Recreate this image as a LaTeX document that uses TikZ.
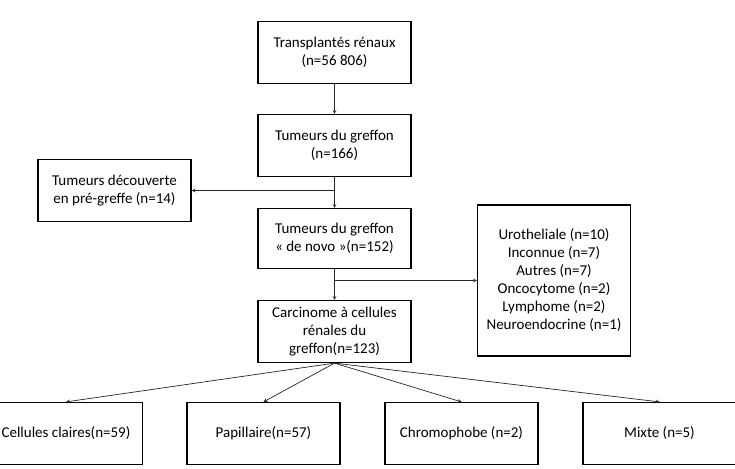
\documentclass[tikz,border=0pt]{standalone}
\usepackage{fontspec}
\setmainfont{Carlito}
\usetikzlibrary{positioning,arrows}

\begin{document}
\begin{tikzpicture}[>=stealth, x=1pt, y=-1pt, node distance=93pt, on grid, auto,
    box/.style={draw, line width=1.2pt, rectangle, align=center, minimum width=153pt,
                minimum height=62pt, inner sep=2pt, font=\fontsize{15}{18}\selectfont},
    pfeil/.style={->, line width=0.7pt, black!85}]

    \useasboundingbox (0,0) rectangle (735,468);

    % Boxen
    \node[box] (trans) at (334.5,52.5) {Transplantés rénaux\\(n=56 806)};
    \node[box, below=of trans] (greffon) {Tumeurs du greffon\\(n=166)};
    \node[box, below=of greffon, minimum height=60pt] (denovo) {Tumeurs du greffon\\« de novo »(n=152)};
    \node[box, below=of denovo] (carcinome) {Carcinome à cellules\\rénales du\\greffon(n=123)};
    \node[box, above left=48pt and 220pt of denovo] (decouverte) {Tumeurs découverte\\en pré-greffe (n=14)};
    \node[box, below right=42pt and 219.5pt of denovo, minimum height=151pt] (autres)
        {Urotheliale (n=10)\\Inconnue (n=7)\\Autres (n=7)\\Oncocytome (n=2)\\Lymphome (n=2)\\Neuroendocrine (n=1)};
    \node[box, below=102pt of carcinome, xshift=-268.5pt] (claires) {Cellules claires(n=59)};
    \node[box, right=197.5pt of claires] (papillaire) {Papillaire(n=57)};
    \node[box, right=198pt of papillaire] (chromophobe) {Chromophobe (n=2)};
    \node[box, right=198pt of chromophobe] (mixte) {Mixte (n=5)};

    \coordinate (ab1) at (greffon.south |- decouverte.east);
    \coordinate (ab2) at (denovo.south |- autres.west);

    % Pfeile
    \draw[pfeil] (trans) -- (greffon);
    \draw[pfeil] (greffon) -- (denovo);
    \draw[pfeil] (ab1) -- (decouverte.east);
    \draw[pfeil] (denovo) -- (carcinome);
    \draw[pfeil] (ab2) -- (autres.west);
    \foreach \ziel in {claires,papillaire,chromophobe,mixte}
        \draw[pfeil] (carcinome.south) -- (\ziel.north);

\end{tikzpicture}
\end{document}
